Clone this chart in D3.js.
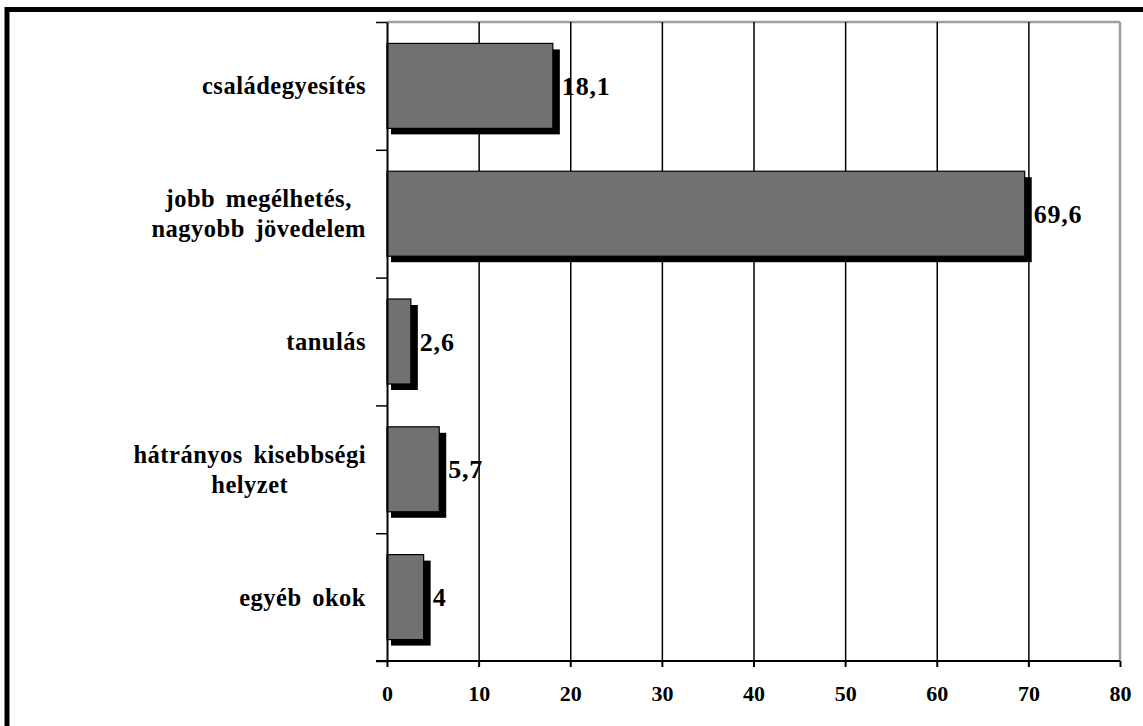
<!DOCTYPE html>
<html><head><meta charset="utf-8">
<script src="https://cdn.jsdelivr.net/npm/d3@7"></script>
<style>
html,body{margin:0;padding:0;background:#fff;}
svg{display:block;}
text{font-family:"Liberation Serif","Times New Roman",serif;font-weight:bold;fill:#000;}
</style></head>
<body>
<svg id="chart" width="1143" height="726"></svg>
<script>
const categories = ["családegyesítés", "jobb megélhetés, nagyobb jövedelem", "tanulás", "hátrányos kisebbségi helyzet", "egyéb okok"];
const categoryLines = [["családegyesítés"], ["jobb megélhetés,", "nagyobb jövedelem"], ["tanulás"], ["hátrányos kisebbségi", "helyzet"], ["egyéb okok"]];
const values = [18.1, 69.6, 2.6, 5.7, 4];
const valueLabels = ["18,1", "69,6", "2,6", "5,7", "4"];
const xTicks = [0, 10, 20, 30, 40, 50, 60, 70, 80];

const svg = d3.select("#chart");
const L = 387, R = 1120, T = 22, B = 661;

// outer frame (cut off at right/bottom)
svg.append("rect").attr("x", 7).attr("y", 9.5).attr("width", 1300).attr("height", 900)
  .attr("fill", "none").attr("stroke", "#000").attr("stroke-width", 5);

const x = d3.scaleLinear().domain([0, 80]).range([L, R]);
const y = d3.scaleBand().domain(d3.range(categories.length)).range([T, B]).paddingInner(0.335).paddingOuter(0.1675);
const yEdge = d3.scaleLinear().domain([0, categories.length]).range([T, B]);

// plot area border (gray top/right)
svg.append("line").attr("x1", L).attr("x2", R).attr("y1", T).attr("y2", T).attr("stroke", "#a0a0a0").attr("stroke-width", 2.5);
svg.append("line").attr("x1", R).attr("x2", R).attr("y1", T).attr("y2", B).attr("stroke", "#a0a0a0").attr("stroke-width", 2.5);

// gridlines
svg.append("g").attr("transform", `translate(0,${B})`)
  .call(d3.axisBottom(x).tickValues(xTicks.filter(v => v > 0 && v < 80)).tickSize(-(B - T)).tickFormat(""))
  .call(g => g.select(".domain").remove())
  .call(g => g.selectAll("line").attr("stroke", "#000").attr("stroke-width", 1.5));

// bars: shadows then bars
svg.append("g").selectAll("rect").data(values).join("rect")
  .attr("x", x(0) + 4).attr("y", (d, i) => y(i) + 6)
  .attr("width", d => x(d) - x(0) + 3).attr("height", y.bandwidth())
  .attr("fill", "#000");
svg.append("g").selectAll("rect").data(values).join("rect")
  .attr("x", x(0)).attr("y", (d, i) => y(i))
  .attr("width", d => x(d) - x(0)).attr("height", y.bandwidth())
  .attr("fill", "#717171").attr("stroke", "#000").attr("stroke-width", 1.2);

// value labels
svg.append("g").selectAll("text").data(values).join("text")
  .attr("x", d => x(d) + 9).attr("y", (d, i) => y(i) + y.bandwidth() / 2)
  .attr("dy", "0.35em").style("font-size", "26px").style("letter-spacing", "0.8px")
  .text((d, i) => valueLabels[i]);

// x axis
const xa = svg.append("g").attr("transform", `translate(0,${B})`)
  .call(d3.axisBottom(x).tickValues(xTicks).tickSize(6).tickPadding(18).tickSizeOuter(0));
xa.select(".domain").remove();
xa.selectAll("line").attr("stroke", "#000").attr("stroke-width", 2);
xa.selectAll("text").style("font-size", "22px").style("font-family", "Liberation Serif").style("font-weight", "bold");
svg.append("line").attr("x1", L - 11).attr("x2", R).attr("y1", B).attr("y2", B).attr("stroke", "#000").attr("stroke-width", 2);

// y axis
const ya = svg.append("g").attr("transform", `translate(${L},0)`)
  .call(d3.axisLeft(yEdge).tickValues(d3.range(categories.length + 1)).tickSize(11).tickFormat("").tickSizeOuter(0));
ya.select(".domain").attr("stroke", "#000").attr("stroke-width", 2);
ya.selectAll("line").attr("stroke", "#000").attr("stroke-width", 1.5);

// category labels (block right-aligned, lines centered)
const lh = 30;
categoryLines.forEach((lines, i) => {
  const g = svg.append("g");
  const cy = y(i) + y.bandwidth() / 2;
  const texts = lines.map((t, j) => g.append("text")
    .attr("y", cy + (j - (lines.length - 1) / 2) * lh).attr("dy", "0.35em")
    .style("font-size", "24.5px").style("letter-spacing", "0.5px").style("word-spacing", "4px").text(t));
  const widths = texts.map(t => t.node().getComputedTextLength());
  const w = d3.max(widths);
  const right = 366;
  texts.forEach((t, j) => t.attr("x", right - w / 2).attr("text-anchor", "middle"));
});
</script>
</body></html>
